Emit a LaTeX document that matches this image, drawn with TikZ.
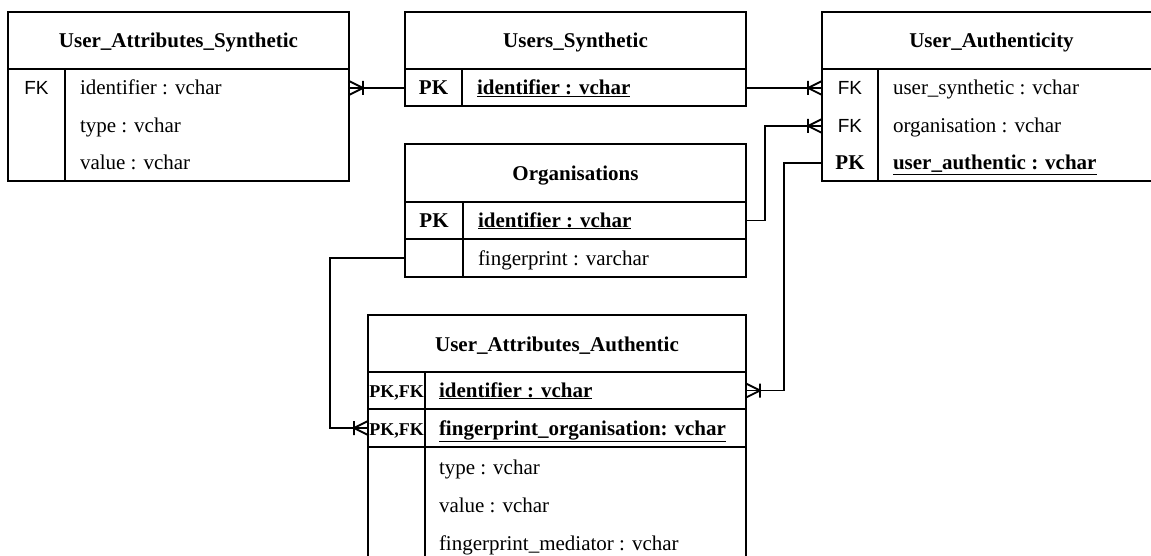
\documentclass[tikz,border=0pt]{standalone}
\usepackage{fontspec}
\setmainfont{Liberation Serif}
\newfontfamily\keyfont{Liberation Sans}
\begin{document}
\begin{tikzpicture}[x=1pt,y=-1pt,
  every node/.style={inner sep=0pt, outer sep=0pt, font=\fontsize{21}{25}\selectfont},
  frame/.style={draw, line width=1.8pt, anchor=north west},
  rule/.style={line width=1.8pt},
  conn/.style={line width=1.8pt},
  title/.style={anchor=base, font=\fontsize{21}{25}\selectfont\bfseries},
  field/.style={anchor=base west},
  keyb/.style={anchor=base, font=\fontsize{21}{25}\selectfont\bfseries},
  keyf/.style={anchor=base, font=\fontsize{19}{23}\selectfont\keyfont},
  keyc/.style={anchor=base, font=\fontsize{18}{22}\selectfont\bfseries},
  rowspan/.style={minimum height=37pt},
  crowfoot/.pic={\draw[conn] (0,-7) -- (-14,0) -- (0,7) (-14,-7) -- (-14,7);}
]
% canvas
\fill[white] (0,0) rectangle (1151,556);
\useasboundingbox (0,0) rectangle (1151,556);
\clip (0,0) rectangle (1151,556);

% ---------- User_Attributes_Synthetic ----------
\node[frame, minimum width=341pt, minimum height=169pt] (uas) at (8,12) {};
\draw[rule] (8,69) -- (349,69);
\draw[rule] (65,69) -- (65,181);
\node[title] (uas-t) at (178.5,48) {User\_Attributes\_Synthetic};
\node[keyf] (uas-k1) at (36.5,95) {FK};
\node[field] (uas-f1) at (80,95) {identifier : vchar};
\node[field] (uas-f2) at (80,133) {type : vchar};
\node[field] (uas-f3) at (80,170) {value : vchar};
\node[rowspan, minimum width=341pt] (uas-id) at (178.5,88) {};

% ---------- Users_Synthetic ----------
\node[frame, minimum width=341pt, minimum height=94pt] (us) at (405,12) {};
\draw[rule] (405,69) -- (746,69);
\draw[rule] (462,69) -- (462,106);
\node[title] (us-t) at (575.5,48) {Users\_Synthetic};
\node[keyb] (us-k1) at (433.5,95) {PK};
\node[field, font=\fontsize{21}{25}\selectfont\bfseries] (us-f1) at (477,95) {\underline{identifier : vchar}};
\node[rowspan, minimum width=341pt] (us-id) at (575.5,88) {};

% ---------- User_Authenticity ----------
\node[frame, minimum width=341pt, minimum height=169pt] (ua) at (822,12) {};
\draw[rule] (822,69) -- (1163,69);
\draw[rule] (878,69) -- (878,181);
\node[title] (ua-t) at (991.5,48) {User\_Authenticity};
\node[keyf] (ua-k1) at (850,95) {FK};
\node[keyf] (ua-k2) at (850,133) {FK};
\node[keyb] (ua-k3) at (850,170) {PK};
\node[field] (ua-f1) at (893,95) {user\_synthetic : vchar};
\node[field] (ua-f2) at (893,133) {organisation : vchar};
\node[field, font=\fontsize{21}{25}\selectfont\bfseries] (ua-f3) at (893,170) {\underline{user\_authentic : vchar}};
\node[rowspan, minimum width=341pt] (ua-us) at (992.5,88) {};
\node[rowspan, minimum width=341pt] (ua-org) at (992.5,126) {};
\node[rowspan, minimum width=341pt] (ua-pk) at (992.5,163) {};

% ---------- Organisations ----------
\node[frame, minimum width=341pt, minimum height=133pt] (org) at (405,144) {};
\draw[rule] (405,202) -- (746,202);
\draw[rule] (405,239) -- (746,239);
\draw[rule] (463,202) -- (463,277);
\node[title] (org-t) at (575.5,181) {Organisations};
\node[keyb] (org-k1) at (434,227) {PK};
\node[field, font=\fontsize{21}{25}\selectfont\bfseries] (org-f1) at (478,227) {\underline{identifier : vchar}};
\node[field] (org-f2) at (478,265) {fingerprint : varchar};
\node[rowspan, minimum width=341pt] (org-id) at (575.5,220.5) {};
\node[rowspan, minimum width=341pt] (org-fp) at (575.5,258) {};

% ---------- User_Attributes_Authentic ----------
\node[frame, minimum width=378pt, minimum height=260pt] (uaa) at (368,315) {};
\draw[rule] (368,372) -- (746,372);
\draw[rule] (368,409) -- (746,409);
\draw[rule] (368,447) -- (746,447);
\draw[rule] (425,372) -- (425,575);
\node[title] (uaa-t) at (557,351) {User\_Attributes\_Authentic};
\node[keyc] (uaa-k1) at (396.5,397) {PK,FK};
\node[keyc] (uaa-k2) at (396.5,435) {PK,FK};
\node[field, font=\fontsize{21}{25}\selectfont\bfseries] (uaa-f1) at (439,397) {\underline{identifier : vchar}};
\node[field, font=\fontsize{21}{25}\selectfont\bfseries] (uaa-f2) at (439,435) {\underline{fingerprint\_organisation: vchar}};
\node[field] (uaa-f3) at (439,474) {type : vchar};
\node[field] (uaa-f4) at (439,512) {value : vchar};
\node[field] (uaa-f5) at (439,550) {fingerprint\_mediator : vchar};
\node[rowspan, minimum width=378pt] (uaa-id) at (557,390.5) {};
\node[rowspan, minimum width=378pt] (uaa-fo) at (557,428) {};

% ---------- relationships ----------
\draw[conn] (uas-id.east) -- (us-id.west);
\pic[xscale=-1] at (uas-id.east) {crowfoot};

\draw[conn] (us-id.east) -- (ua-us.west);
\pic at (ua-us.west) {crowfoot};

\draw[conn] (org-id.east) -- ++(19,0) |- (ua-org.west);
\pic at (ua-org.west) {crowfoot};

\draw[conn] (ua-pk.west) -- ++(-38,0) |- (uaa-id.east);
\pic[xscale=-1] at (uaa-id.east) {crowfoot};

\draw[conn] (org-fp.west) -- ++(-75,0) |- (uaa-fo.west);
\pic at (uaa-fo.west) {crowfoot};
\end{tikzpicture}
\end{document}
